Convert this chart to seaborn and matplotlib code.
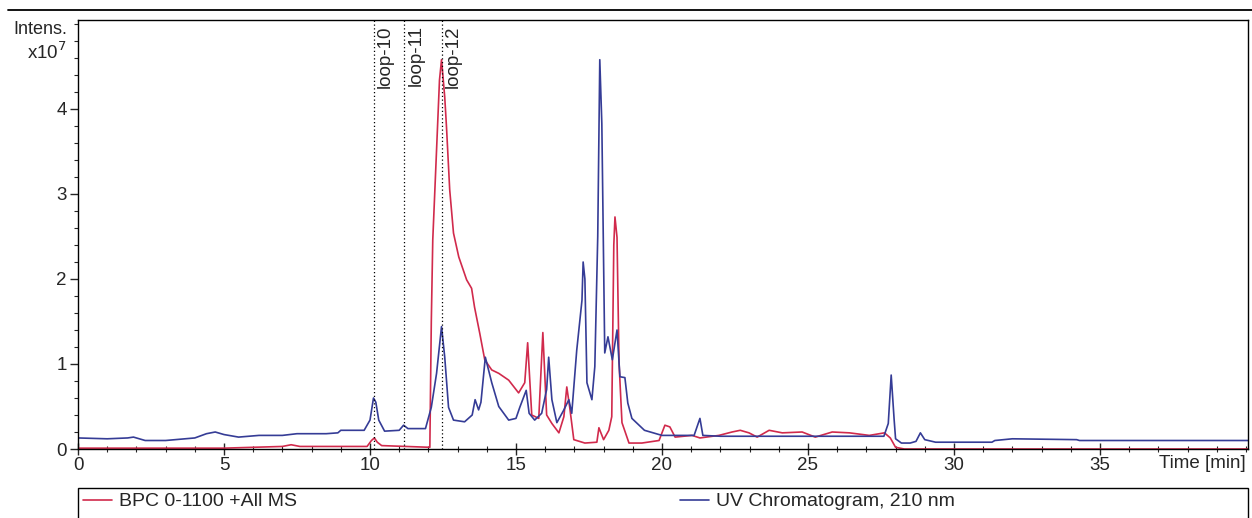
import numpy as np
import pandas as pd
import matplotlib
matplotlib.use("Agg")
import matplotlib.pyplot as plt
from matplotlib.lines import Line2D
from matplotlib.patches import Rectangle
from matplotlib.ticker import MultipleLocator
import seaborn as sns

# ---------------- data ----------------
uv_time = [0.0, 1.0, 1.7, 1.9, 2.3, 3.0, 4.0, 4.4, 4.7, 5.0, 5.5, 6.2, 7.0, 7.5, 8.5, 8.9,
           9.0, 9.8, 10.0, 10.12, 10.2, 10.3, 10.5, 11.0, 11.15, 11.3, 11.9, 12.1, 12.28,
           12.45, 12.56, 12.69, 12.86, 13.24, 13.5, 13.6, 13.72, 13.8, 13.95, 14.17, 14.41,
           14.75, 15.0, 15.13, 15.35, 15.45, 15.64, 15.88, 16.05, 16.12, 16.23, 16.4, 16.64,
           16.81, 16.91, 17.08, 17.26, 17.3, 17.36, 17.43, 17.6, 17.7, 17.8, 17.87, 17.94,
           18.04, 18.15, 18.3, 18.46, 18.56, 18.73, 18.83, 18.97, 19.4, 20.0, 21.1, 21.3,
           21.4, 22.0, 25.0, 27.6, 27.75, 27.85, 27.95, 28.0, 28.2, 28.5, 28.7, 28.85, 29.0,
           29.37, 31.3, 31.4, 32.0, 34.2, 34.3, 36.0, 40.1]
uv_intensity = [0.13, 0.12, 0.13, 0.14, 0.10, 0.10, 0.13, 0.18, 0.20, 0.17, 0.14, 0.16, 0.16,
                0.18, 0.18, 0.19, 0.22, 0.22, 0.34, 0.60, 0.55, 0.34, 0.21, 0.22, 0.28, 0.24,
                0.24, 0.49, 0.89, 1.44, 1.08, 0.49, 0.34, 0.32, 0.40, 0.58, 0.46, 0.55, 1.08,
                0.78, 0.50, 0.34, 0.36, 0.49, 0.69, 0.42, 0.34, 0.42, 0.70, 1.08, 0.58, 0.31,
                0.46, 0.58, 0.42, 1.16, 1.75, 2.20, 2.00, 0.78, 0.58, 0.97, 2.50, 4.58, 3.83,
                1.13, 1.32, 1.05, 1.40, 0.85, 0.84, 0.54, 0.36, 0.22, 0.16, 0.16, 0.36, 0.16,
                0.15, 0.15, 0.15, 0.30, 0.87, 0.35, 0.12, 0.07, 0.07, 0.09, 0.19, 0.11, 0.08,
                0.08, 0.10, 0.12, 0.11, 0.10, 0.10, 0.10]

bpc_time = [0.0, 5.0, 7.0, 7.3, 7.6, 9.9, 10.05, 10.15, 10.25, 10.4, 12.05, 12.1, 12.15,
            12.28, 12.38, 12.45, 12.56, 12.62, 12.73, 12.86, 13.04, 13.2, 13.31, 13.48,
            13.58, 13.76, 13.93, 14.17, 14.41, 14.75, 15.09, 15.3, 15.4, 15.54, 15.78,
            15.92, 16.05, 16.23, 16.47, 16.64, 16.74, 16.84, 16.98, 17.36, 17.77, 17.84,
            18.0, 18.18, 18.28, 18.35, 18.39, 18.46, 18.53, 18.63, 18.87, 19.31, 19.9, 20.1,
            20.27, 20.45, 21.03, 21.3, 21.95, 22.4, 22.68, 22.98, 23.26, 23.67, 24.12, 24.8,
            25.25, 25.83, 26.42, 27.1, 27.62, 27.82, 28.0, 28.3, 40.1]
bpc_intensity = [0.01, 0.01, 0.03, 0.05, 0.03, 0.03, 0.10, 0.13, 0.08, 0.04, 0.02, 1.50,
                 2.46, 3.52, 4.34, 4.58, 4.14, 3.79, 3.05, 2.54, 2.26, 2.10, 1.99, 1.89,
                 1.67, 1.36, 1.05, 0.93, 0.89, 0.81, 0.66, 0.78, 1.25, 0.40, 0.36, 1.37,
                 0.40, 0.30, 0.19, 0.38, 0.73, 0.49, 0.11, 0.07, 0.08, 0.25, 0.11, 0.22,
                 0.38, 2.40, 2.73, 2.49, 1.01, 0.31, 0.07, 0.07, 0.10, 0.28, 0.26, 0.14,
                 0.16, 0.13, 0.16, 0.20, 0.22, 0.19, 0.14, 0.22, 0.19, 0.20, 0.14, 0.20,
                 0.19, 0.16, 0.19, 0.13, 0.02, 0.0, 0.0]

loop_times = [10.14, 11.18, 12.45]
loop_labels = ["loop-10", "loop-11", "loop-12"]

x_ticks = [0, 5, 10, 15, 20, 25, 30, 35]
y_ticks = [0, 1, 2, 3, 4]

series_names = ["BPC 0-1100 +All MS", "UV Chromatogram, 210 nm"]
series_colors = ["#d12a4c", "#353c96"]

# ---------------- styling ----------------
sns.set_style("ticks")
plt.rcParams["font.family"] = ["Liberation Sans", "DejaVu Sans"]
plt.rcParams["axes.linewidth"] = 1.0

fig = plt.figure(figsize=(12.52, 5.18), dpi=100)
ax = fig.add_axes([78 / 1252, 69 / 518, 1170 / 1252, 429 / 518])

bpc_df = pd.DataFrame({"time": bpc_time, "intensity": bpc_intensity})
uv_df = pd.DataFrame({"time": uv_time, "intensity": uv_intensity})

sns.lineplot(data=bpc_df, x="time", y="intensity", ax=ax, color=series_colors[0],
             linewidth=1.2, sort=False, estimator=None)
sns.lineplot(data=uv_df, x="time", y="intensity", ax=ax, color=series_colors[1],
             linewidth=1.2, sort=False, estimator=None)

for t, lab in zip(loop_times, loop_labels):
    ax.axvline(t, color="black", linestyle=(0, (1, 2)), linewidth=0.9)
    ax.text(t + 0.1, 0.988, lab, rotation=90, ha="left", va="top", fontsize=13.5,
            transform=ax.get_xaxis_transform())

ax.set_xlim(0, 40.07)
ax.set_ylim(0, 5.047)
ax.set_xticks(x_ticks)
ax.set_yticks(y_ticks)
ax.xaxis.set_minor_locator(MultipleLocator(1))
ax.yaxis.set_minor_locator(MultipleLocator(0.2))
ax.tick_params(axis="x", which="major", direction="inout", length=8, width=1.0,
               labelsize=13.5, pad=2)
ax.tick_params(axis="x", which="minor", direction="inout", length=5, width=0.8)
ax.tick_params(axis="y", which="major", direction="out", length=6, width=1.0,
               labelsize=13.5, pad=2)
ax.tick_params(axis="y", which="minor", direction="out", length=3, width=0.8)
ax.set_xlabel("")
ax.set_ylabel("")
for s in ax.spines.values():
    s.set_visible(True)
    s.set_color("black")

# axis captions
fig.text(67 / 1252, 1 - 30 / 518, "Intens.", ha="right", va="center", fontsize=13)
fig.text(67 / 1252, 1 - 52 / 518, "x10$^7$", ha="right", va="center", fontsize=13.5)
fig.text(1246 / 1252, 1 - 463 / 518, "Time [min]", ha="right", va="center", fontsize=13.5)

# top rule
fig.add_artist(Line2D([8 / 1252, 1.0], [1 - 10 / 518, 1 - 10 / 518],
                      transform=fig.transFigure, color="black", linewidth=1.3))

# legend box
fig.add_artist(Rectangle((78 / 1252, -0.05), 1170 / 1252, 0.05 + 30 / 518,
                         transform=fig.transFigure, fill=False, edgecolor="black",
                         linewidth=1.0))
legend_x = [79 / 1252, 676 / 1252]
for c, name, lx in zip(series_colors, series_names, legend_x):
    lg = fig.legend([Line2D([], [], color=c, linewidth=1.2)], [name], loc="upper left",
                    bbox_to_anchor=(lx, 29 / 518), fontsize=14, frameon=False,
                    borderpad=0.2, borderaxespad=0.0, handlelength=1.5,
                    handletextpad=0.35)

fig.savefig("out.png", dpi=100)
